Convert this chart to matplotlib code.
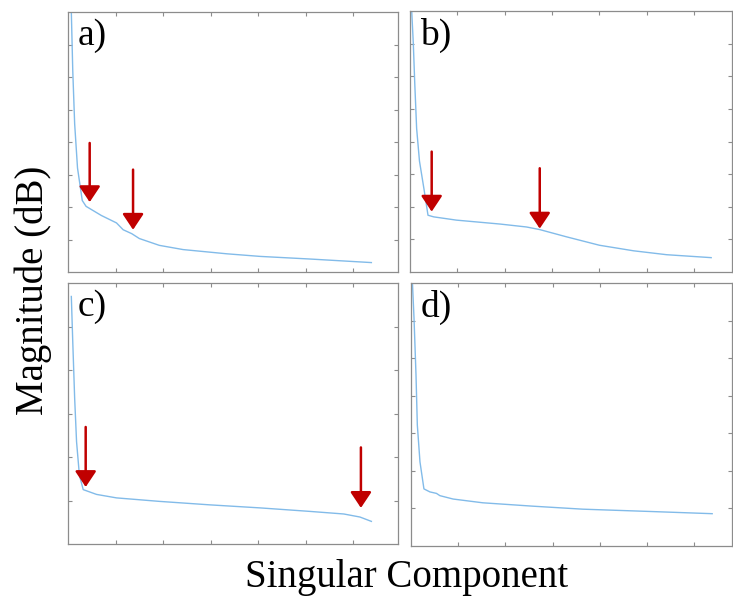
import matplotlib
matplotlib.use('Agg')
import matplotlib.pyplot as plt

plt.rcParams['font.family'] = ['Liberation Serif', 'DejaVu Serif']

# Singular value curves (component index, magnitude in dB)
a_x = [1, 3.5, 5, 7, 10, 15, 19, 35, 51, 58, 67, 75, 96, 121, 167, 202, 254, 319]
a_y = [95, 80, 62, 45.6, 32, 22, 20.2, 17.4, 15.1, 13.0, 11.8, 10.3, 8.2, 6.9, 5.6, 4.8, 4.0, 2.9]

b_x = [1, 1.8, 3.5, 5, 7, 10, 15, 19, 25, 49, 95, 123, 137, 165, 200, 236, 271, 318]
b_y = [86, 80, 70, 58, 44, 34, 25, 17.4, 16.9, 15.9, 14.7, 13.8, 13.0, 10.8, 8.2, 6.5, 5.3, 4.4]

c_x = [3.5, 5, 7, 9, 12, 16, 30, 51, 96, 149, 202, 254, 290, 307, 319]
c_y = [56.9, 46.5, 33.5, 23.5, 15.8, 12.5, 11.4, 10.6, 9.8, 9.0, 8.3, 7.5, 6.9, 6.2, 5.2]

d_x = [1, 3.2, 5.3, 6.7, 9.5, 13.7, 20, 27, 30.6, 44.6, 76, 129, 182, 252, 319]
d_y = [73, 60.6, 45.5, 32.2, 22.4, 15.2, 14.4, 14.0, 13.4, 12.5, 11.5, 10.6, 9.8, 9.2, 8.6]

# Red arrows: (x, tail y, tip y)
a_arrows = [(22.8, 39.7, 21.5), (68.4, 31.5, 13.0)]
b_arrows = [(22.9, 36.9, 18.5), (137, 31.8, 13.3)]
c_arrows = [(18.6, 26.9, 13.1), (308, 22.2, 8.3)]
d_arrows = []

panel_labels = ['a)', 'b)', 'c)', 'd)']
y_limits = [80, 80, 60, 70]
x_limits = [347, 340, 347, 340]

W, H = 733, 596
# axes rectangles in pixels: left, top, right, bottom
rects = [(68, 12, 398, 272), (410, 11, 732, 272),
         (68, 283, 398, 544), (411, 283, 732, 546)]

line_color = '#82bbe9'
arrow_color = '#c00000'
frame_color = '#8c8c8c'

fig = plt.figure(figsize=(W / 100, H / 100), dpi=100)

curves = [(a_x, a_y), (b_x, b_y), (c_x, c_y), (d_x, d_y)]
arrows = [a_arrows, b_arrows, c_arrows, d_arrows]

for i in range(4):
    l, t, r, b = rects[i]
    ax = fig.add_axes([l / W, 1 - b / H, (r - l) / W, (b - t) / H])
    xs, ys = curves[i]
    ax.plot(xs, ys, color=line_color, lw=1.0)
    ax.set_xlim(0, x_limits[i])
    ax.set_ylim(0, y_limits[i])
    ax.set_xticks(range(50, x_limits[i], 50))
    ax.set_yticks(range(10, y_limits[i], 10))
    ax.tick_params(direction='in', length=3, width=0.8, color=frame_color,
                   top=True, right=True, labelbottom=False, labelleft=False)
    for s in ax.spines.values():
        s.set_color(frame_color)
        s.set_linewidth(0.9)

    for x, y0, y1 in arrows[i]:
        ax.annotate('', xy=(x, y1), xytext=(x, y0),
                    arrowprops=dict(arrowstyle='-|>,head_length=0.42,head_width=0.28',
                                    color=arrow_color, lw=1.8,
                                    mutation_scale=23, shrinkA=0, shrinkB=0))

    ax.text(0.03, 0.975, panel_labels[i], transform=ax.transAxes,
            fontsize=27, va='top', ha='left')

fig.text(33 / W, 1 - 290 / H, 'Magnitude (dB)', rotation=90,
         fontsize=28, ha='center', va='center')
fig.text(407 / W, 1 - 578 / H, 'Singular Component',
         fontsize=28, ha='center', va='center')

fig.savefig('out.png', dpi=100)
